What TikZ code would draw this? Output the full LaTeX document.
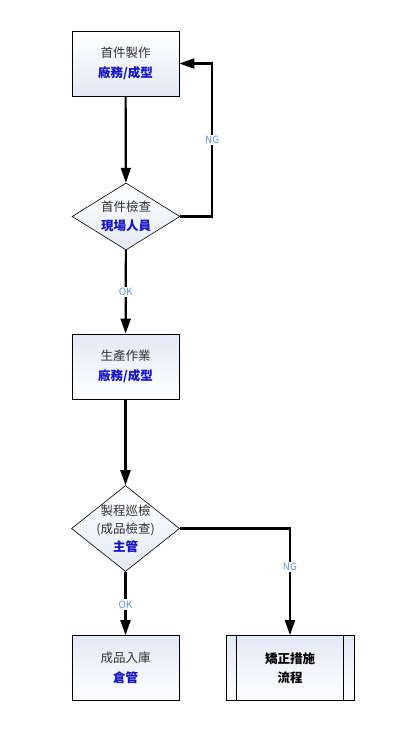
\documentclass[tikz,border=0pt]{standalone}
\usepackage{fontspec}
\setmainfont{Noto Sans CJK TC}
\usepackage{tikz}
\usetikzlibrary{arrows.meta,shapes.geometric}
\definecolor{boxtop}{HTML}{FFFFFF}
\definecolor{boxbot}{HTML}{E3E9F6}
\definecolor{who}{HTML}{1414C8}
\definecolor{tag}{HTML}{5F95D8}
\definecolor{txt}{HTML}{303030}

\begin{document}
\begin{tikzpicture}[
        x=1pt, y=-1pt,
        font=\fontsize{12.5}{19.5}\selectfont,
        stepbox/.style={
            draw, line width=0.8pt, rectangle,
            minimum width=107pt, minimum height=65pt,
            top color=boxtop, bottom color=boxbot
        },
        stepboxup/.style={stepbox, top color=boxbot, bottom color=boxtop},
        decision/.style={
            draw, line width=0.6pt, diamond, inner sep=0pt,
            minimum width=108pt, top color=boxtop, bottom color=boxbot
        },
        flow/.style={line width=2.2pt, -{Triangle[length=15pt,width=10pt]}},
        tagtext/.style={fill=white, text=tag, inner sep=1.5pt,
            font=\fontsize{10}{12}\selectfont},
        role/.style={text=who, font=\bfseries}
    ]
        \useasboundingbox (0,0) rectangle (408,751);

        % boxes and decisions
        \node[stepbox] (make) at (125.5,63.5) {};
        \node[align=center, text=txt] (maketext) at (make) {首件製作\\ {\color{who}\bfseries 廠務/成型}};

        \node[decision, minimum height=67pt] (check) at (126,216.5) {};
        \node[align=center, text=txt] (checktext) at (check) {首件檢查\\ {\color{who}\bfseries 現場人員}};

        \node[stepboxup] (prod) at (125.5,366.5) {};
        \node[align=center, text=txt] (prodtext) at (prod) {生產作業\\ {\color{who}\bfseries 廠務/成型}};

        \node[decision, minimum height=86pt] (patrol) at (125.5,528.5) {};
        \node[align=center, text=txt, font=\fontsize{12.5}{18}\selectfont] (patroltext) at (patrol) {製程巡檢\\ (成品檢查)\\ {\color{who}\bfseries 主管}};

        \node[stepboxup] (store) at (125.5,668) {};
        \node[align=center, text=txt] (storetext) at (store) {成品入庫\\ {\color{who}\bfseries 倉管}};

        \node[stepboxup, minimum width=128pt] (fix) at (290,668) {};
        \draw[line width=0.8pt] ([xshift=11pt]fix.north west) -- ([xshift=11pt]fix.south west);
        \draw[line width=0.8pt] ([xshift=-11pt]fix.north east) -- ([xshift=-11pt]fix.south east);
        \node[align=center, font=\fontsize{12.5}{19.5}\selectfont\bfseries] (fixtext) at (fix) {矯正措施\\ 流程};

        % connectors
        \draw[flow] (make) -- (check);
        \draw[flow] (check.east) -- ++(32,0) |- node[pos=0.25, tagtext] {NG} (make.east);
        \draw[flow] (check) -- node[tagtext] {OK} (prod);
        \draw[flow] (prod) -- (patrol);
        \draw[flow] (patrol) -- node[pos=0.52, tagtext] {OK} (store);
        \draw[flow] (patrol.east) -| node[pos=0.68, tagtext] {NG} (fix.north);
    \end{tikzpicture}
\end{document}
